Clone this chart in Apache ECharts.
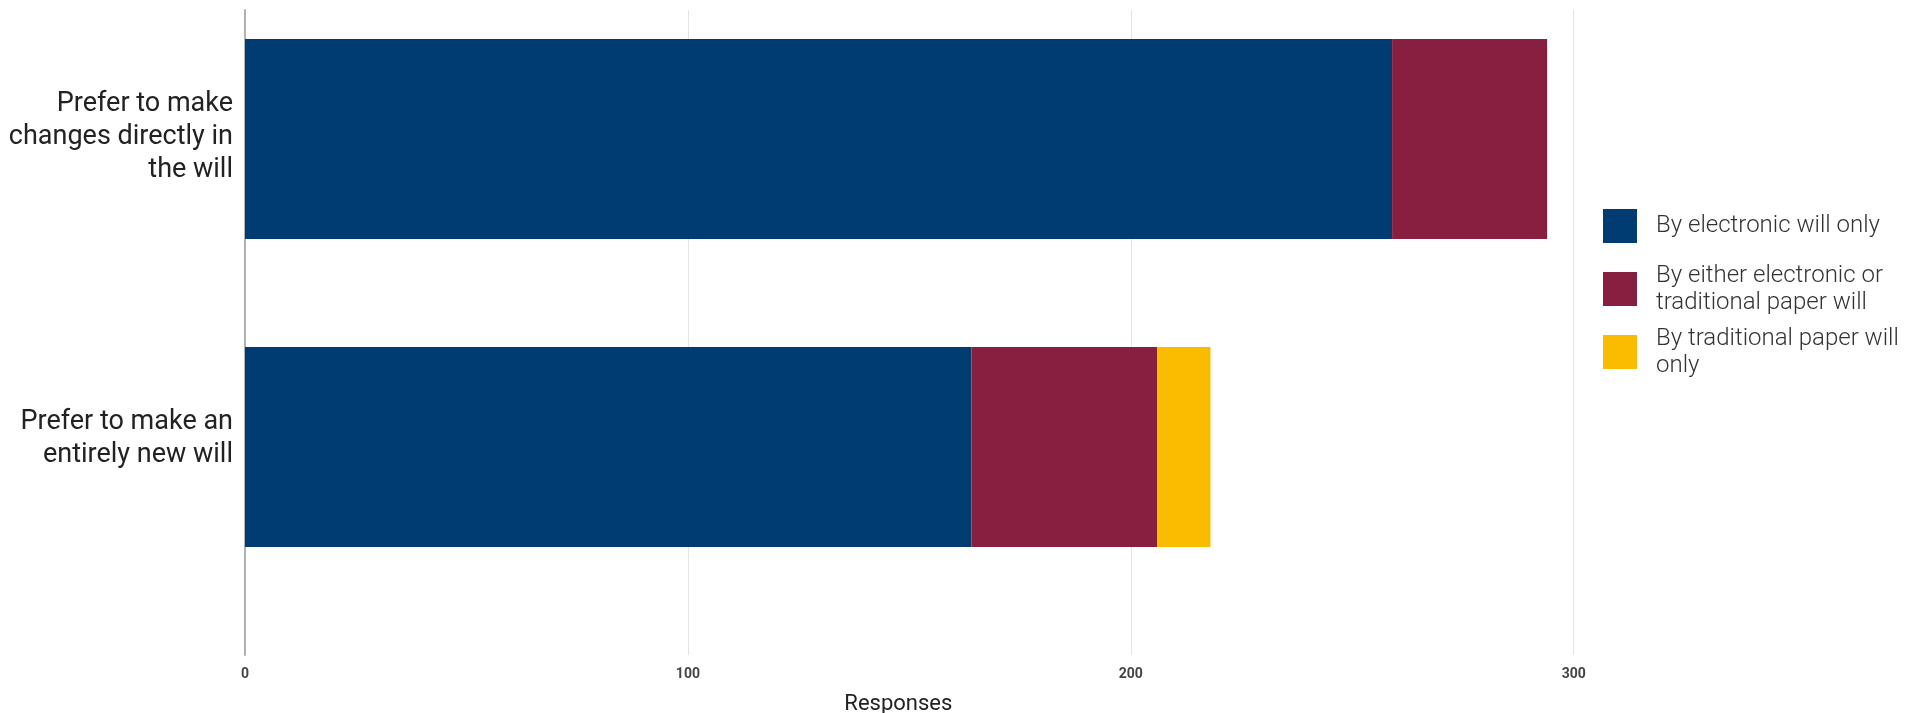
<!DOCTYPE html>
<html>
<head>
<meta charset="utf-8">
<script src="https://cdn.jsdelivr.net/npm/echarts@6/dist/echarts.min.js"></script>
<style>
  html, body { margin: 0; padding: 0; background: #ffffff; }
  #chart { width: 1919px; height: 713px; }
</style>
</head>
<body>
<div id="chart"></div>
<script>
const categories = ['Prefer to make\nchanges directly in\nthe will', 'Prefer to make an\nentirely new will'];
const seriesNames = ['By electronic will only', 'By either electronic or traditional paper will', 'By traditional paper will only'];
const legendLabels = ['By electronic will only', 'By either electronic or\ntraditional paper will', 'By traditional paper will\nonly'];
const electronicOnly = [259, 164];
const eitherWill = [35, 42];
const paperOnly = [0, 12];
const xTicks = [0, 100, 200, 300];
const axisTitle = 'Responses';

const colors = ['#003b71', '#871f41', '#fbbc00'];
const values = [electronicOnly, eitherWill, paperOnly];
const FONT = 'Roboto, "Noto Sans", sans-serif';
// extra spacer below each category label (shifts the label block up)
const labelSpacers = [4, 17];

const chart = echarts.init(document.getElementById('chart'));

const legendTops = [209, 262, 325];
const legends = seriesNames.map((name, i) => ({
  data: [name],
  orient: 'vertical',
  left: 1603,
  top: legendTops[i],
  padding: 0,
  itemWidth: 34,
  itemHeight: 34,
  icon: 'rect',
  selectedMode: false,
  formatter: n => legendLabels[seriesNames.indexOf(n)],
  textStyle: {
    fontFamily: FONT,
    fontWeight: 300,
    fontSize: 24,
    lineHeight: 27,
    color: '#333333',
    padding: [0, 0, 0, 14]
  }
}));

const option = {
  backgroundColor: '#ffffff',
  animation: false,
  color: colors,
  legend: legends,
  grid: [
    { left: 245, width: 1328.7, top: -15, height: 616, containLabel: false, outerBoundsMode: 'none' },
    { left: 245, width: 1328.7, top: 10, bottom: 58, containLabel: false, outerBoundsMode: 'none' }
  ],
  xAxis: [
    { gridIndex: 0, type: 'value', min: 0, max: 300, interval: 100, show: false },
    {
      gridIndex: 1, type: 'value', min: xTicks[0], max: xTicks[xTicks.length - 1], interval: 100,
      axisLine: { show: false },
      axisTick: { show: false },
      splitLine: { show: true, lineStyle: { color: '#e3e3e3', width: 1 } },
      axisLabel: {
        margin: 12,
        fontFamily: FONT,
        fontWeight: 'bold',
        fontSize: 14,
        color: '#444444',
        formatter: v => (xTicks.indexOf(v) >= 0 ? String(v) : '')
      },
      name: axisTitle,
      nameLocation: 'middle',
      nameGap: 38,
      nameTextStyle: {
        fontFamily: FONT,
        fontSize: 22,
        color: '#222222',
        padding: [0, 22, 0, 0]
      }
    }
  ],
  yAxis: [
    {
      gridIndex: 0, type: 'category', inverse: true,
      data: categories,
      axisLine: { show: false },
      axisTick: { show: false },
      splitLine: { show: false },
      axisLabel: {
        margin: 12,
        fontFamily: FONT,
        fontSize: 27,
        lineHeight: 33,
        color: '#222222',
        align: 'right',
        formatter: (v, idx) => {
          const lines = v.split('\n').map(l => '{n|' + l + '}');
          return lines.join('\n') + '\n{s' + idx + '| }';
        },
        rich: {
          n: { fontFamily: FONT, fontSize: 27, lineHeight: 33, color: '#222222', align: 'right' },
          s0: { fontSize: 1, lineHeight: labelSpacers[0] },
          s1: { fontSize: 1, lineHeight: labelSpacers[1] }
        }
      }
    },
    {
      gridIndex: 1, type: 'value', min: 0, max: 1,
      axisLine: { show: true, lineStyle: { color: '#b0b0b0', width: 2 } },
      axisTick: { show: false },
      axisLabel: { show: false },
      splitLine: { show: false }
    }
  ],
  series: seriesNames.map((name, i) => ({
    name: name,
    type: 'bar',
    stack: 'total',
    xAxisIndex: 0,
    yAxisIndex: 0,
    barWidth: 200,
    itemStyle: { color: colors[i] },
    emphasis: { disabled: true },
    data: values[i]
  }))
};

chart.setOption(option);
</script>
</body>
</html>
